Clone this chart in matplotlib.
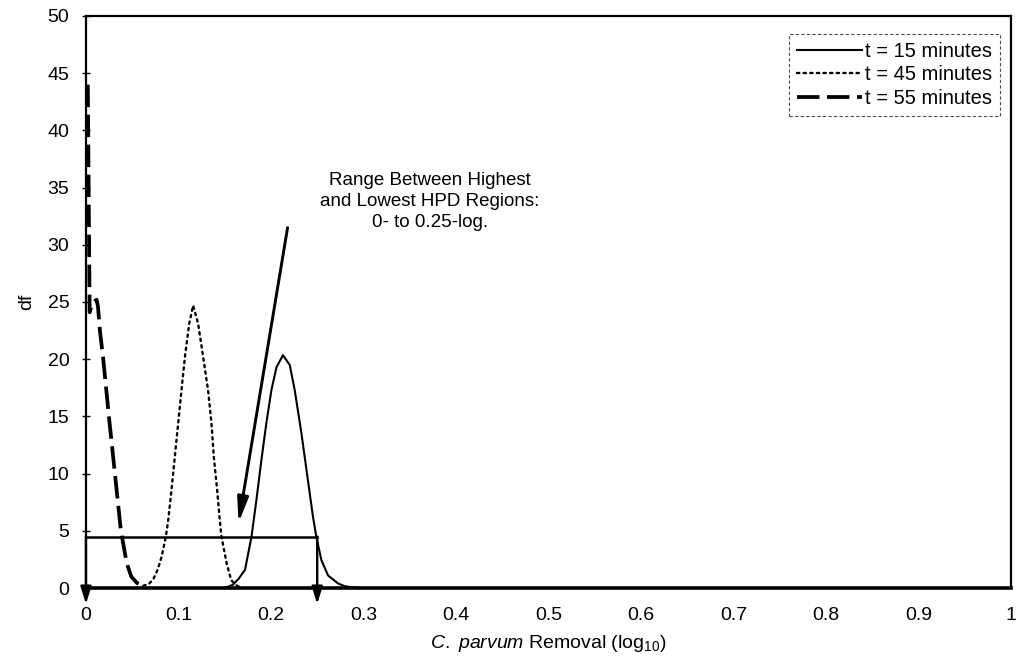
import matplotlib
matplotlib.use("Agg")
import matplotlib.pyplot as plt

plt.rcParams['font.family'] = ['Liberation Sans', 'DejaVu Sans']
plt.rcParams['mathtext.fontset'] = 'custom'
plt.rcParams['mathtext.rm'] = 'Liberation Sans'
plt.rcParams['mathtext.it'] = 'Liberation Sans:italic'

# t = 55 minutes (dashed)
x55 = [0.002, 0.004, 0.007, 0.0115, 0.013, 0.0151, 0.0187, 0.0248, 0.0313, 0.0378,
       0.044, 0.049, 0.055, 0.062]
y55 = [44.0, 24.1, 24.9, 25.2, 24.6, 22.5, 20.0, 15.0, 10.0, 5.0,
       2.2, 1.0, 0.45, 0.2]

# t = 45 minutes (dotted)
x45 = [0.062, 0.068, 0.073, 0.0775, 0.0817, 0.0864, 0.0889, 0.0925, 0.0961, 0.0997,
       0.1033, 0.107, 0.1116, 0.1159, 0.1213, 0.1267, 0.132, 0.1357, 0.1382, 0.1418,
       0.1447, 0.1465, 0.152, 0.157, 0.162, 0.168]
y45 = [0.2, 0.35, 0.8, 1.6, 2.7, 4.5, 5.9, 8.6, 11.5, 14.4,
       17.3, 20.2, 23.1, 24.7, 23.1, 20.2, 17.3, 14.4, 11.5, 8.6,
       5.9, 4.5, 2.2, 0.7, 0.25, 0.05]

# t = 15 minutes (solid)
x15 = [0.150, 0.155, 0.159, 0.165, 0.172, 0.179, 0.1843, 0.1897, 0.195, 0.2005,
       0.206, 0.213, 0.2203, 0.2257, 0.233, 0.240, 0.2455, 0.249, 0.2545, 0.2617,
       0.2725, 0.28, 0.29, 0.30]
y15 = [0.05, 0.15, 0.3, 0.8, 1.6, 4.5, 7.7, 11.2, 14.4, 17.3,
       19.3, 20.35, 19.5, 17.3, 13.5, 9.4, 6.2, 4.5, 2.45, 1.1,
       0.4, 0.15, 0.05, 0.0]

# HPD range
hpd_low = 0.0
hpd_high = 0.25
hpd_level = 4.5

xticks = [0, 0.1, 0.2, 0.3, 0.4, 0.5, 0.6, 0.7, 0.8, 0.9, 1.0]
xticklabels = ['0', '0.1', '0.2', '0.3', '0.4', '0.5', '0.6', '0.7', '0.8', '0.9', '1']
yticks = [0, 5, 10, 15, 20, 25, 30, 35, 40, 45, 50]

fig = plt.figure(figsize=(10.16, 6.66), dpi=100)
ax = fig.add_axes([0.0846, 0.1171, 0.9104, 0.8589])

ax.plot(x15, y15, color='black', lw=1.5, label='t = 15 minutes')
ax.plot(x45, y45, color='black', lw=1.7, linestyle=(0, (1, 1.8)), dash_capstyle='round',
        label='t = 45 minutes')
ax.plot(x55, y55, color='black', lw=2.7, linestyle=(0, (6, 2)), label='t = 55 minutes')

# HPD box lines
ax.plot([hpd_low, hpd_high], [hpd_level, hpd_level], color='black', lw=1.8)
head = '-|>,head_length=0.8,head_width=0.25'
for xv in [hpd_low, hpd_high]:
    ax.annotate('', xy=(xv, -1.4), xytext=(xv, hpd_level),
                arrowprops=dict(arrowstyle=head, mutation_scale=13, lw=1.7,
                                color='black', shrinkA=0, shrinkB=0, clip_on=False),
                annotation_clip=False)

# annotation
ax.annotate('', xy=(0.165, 5.7), xytext=(0.218, 31.5),
            arrowprops=dict(arrowstyle='-|>,head_length=1.0,head_width=0.22',
                            mutation_scale=15, lw=2.1, color='black',
                            shrinkA=0, shrinkB=0))
ax.text(0.372, 33.8, 'Range Between Highest\nand Lowest HPD Regions:\n0- to 0.25-log.',
        ha='center', va='center', fontsize=13.5, linespacing=1.3)

ax.set_xlim(0, 1)
ax.set_ylim(0, 50)
ax.set_xticks(xticks)
ax.set_xticklabels(xticklabels)
ax.set_yticks(yticks)
ax.tick_params(axis='y', direction='inout', length=6, width=1, pad=9, labelsize=14)
ax.tick_params(axis='x', length=0, pad=14, labelsize=14)

for s in ['top', 'right', 'left']:
    ax.spines[s].set_linewidth(1.6)
ax.spines['bottom'].set_linewidth(2.6)

leg = ax.legend(loc='upper right', bbox_to_anchor=(0.988, 0.969), borderaxespad=0,
                fontsize=14.5, handlelength=3.2, handletextpad=0.15, labelspacing=0.22,
                borderpad=0.4, fancybox=False, framealpha=1)
leg.get_frame().set_edgecolor('0.3')
leg.get_frame().set_linestyle((0, (3, 2)))
leg.get_frame().set_linewidth(0.8)

fig.text(548 / 1016, 1 - 643 / 666, r'$\mathit{C.\ parvum}$ Removal (log$_{10}$)',
         ha='center', va='center', fontsize=14)
fig.text(27 / 1016, 1 - 302 / 666, 'df', rotation=90, ha='center', va='center',
         fontsize=14)

fig.savefig('out.png', dpi=100)
